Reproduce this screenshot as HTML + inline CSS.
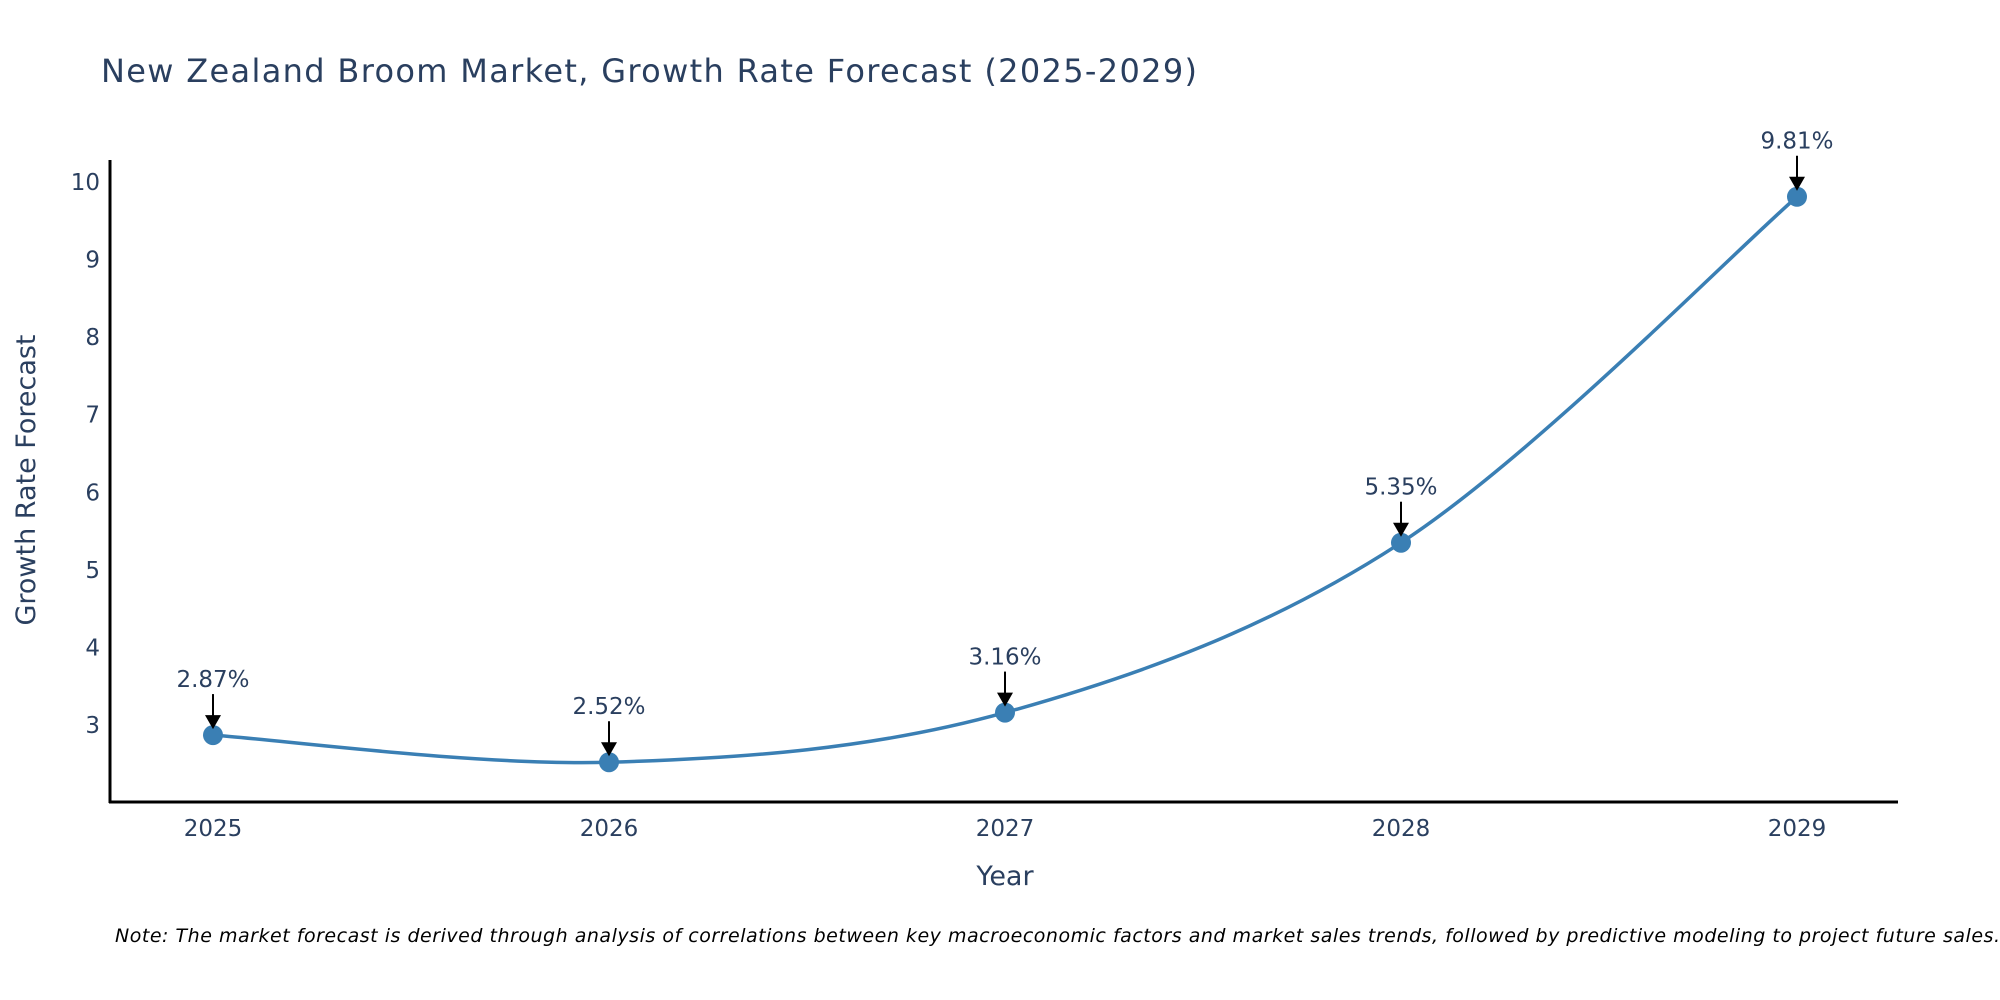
<!DOCTYPE html>
<html><head><meta charset="utf-8"><style>
html,body{margin:0;padding:0;background:#fff;}
svg{display:block;font-family:"DejaVu Sans","Liberation Sans",sans-serif;}
</style></head><body>
<svg id="chart" width="2000" height="1000" viewBox="0 0 2000 1000">
<text x="101" y="82" font-size="32" fill="#2a3f5f" textLength="1096">New Zealand Broom Market, Growth Rate Forecast (2025-2029)</text>
<g id="yticks"></g>
<g id="xticks"></g>
<line x1="110" y1="160" x2="110" y2="803" stroke="#000" stroke-width="3"/>
<line x1="109" y1="802" x2="1898" y2="802" stroke="#000" stroke-width="3"/>
<g id="series"></g>
<g id="annots"></g>
<text x="1005" y="885" font-size="27" fill="#2a3f5f" text-anchor="middle">Year</text>
<text transform="translate(35,480) rotate(-90)" font-size="27" fill="#2a3f5f" text-anchor="middle">Growth Rate Forecast</text>
<text x="115" y="942" font-size="19" font-style="italic" fill="#000" textLength="1885">Note: The market forecast is derived through analysis of correlations between key macroeconomic factors and market sales trends, followed by predictive modeling to project future sales.</text>
</svg>
<script>
const years = ["2025","2026","2027","2028","2029"];
const values = [2.87, 2.52, 3.16, 5.35, 9.81];
const labels = ["2.87%","2.52%","3.16%","5.35%","9.81%"];
const yTicks = [3,4,5,6,7,8,9,10];

const NS = "http://www.w3.org/2000/svg";
function xPos(i){ return 213 + i*396; }
function yPos(v){ return 725 - (v-3)*77.57; }
function mk(tag, attrs, parent){ const e=document.createElementNS(NS,tag); for(const k in attrs) e.setAttribute(k,attrs[k]); parent.appendChild(e); return e; }

const yt=document.getElementById('yticks');
yTicks.forEach(t=>{
  const e=mk('text',{x:100,y:yPos(t)+8,'font-size':23,fill:'#2a3f5f','text-anchor':'end'},yt);
  e.textContent=t;
  
  
});
const xt=document.getElementById('xticks');
years.forEach((y,i)=>{
  const e=mk('text',{x:xPos(i),y:836,'font-size':23,fill:'#2a3f5f','text-anchor':'middle'},xt);
  e.textContent=y;
  
  
});

// smooth curve (Catmull-Rom -> Bezier)
const pts=values.map((v,i)=>[xPos(i),yPos(v)]);
let d=`M${pts[0][0]},${pts[0][1]}`;
const tension=0.5;
for(let i=0;i<pts.length-1;i++){
  const p0=pts[Math.max(0,i-1)],p1=pts[i],p2=pts[i+1],p3=pts[Math.min(pts.length-1,i+2)];
  const c1=[p1[0]+(p2[0]-p0[0])*tension/3,p1[1]+(p2[1]-p0[1])*tension/3];
  const c2=[p2[0]-(p3[0]-p1[0])*tension/3,p2[1]-(p3[1]-p1[1])*tension/3];
  d+=` C${c1[0]},${c1[1]} ${c2[0]},${c2[1]} ${p2[0]},${p2[1]}`;
}
const s=document.getElementById('series');
const line=mk('path',{d:d,fill:'none',stroke:'#3a7fb4','stroke-width':3.5},s);


pts.forEach(p=>{
  const c=mk('circle',{cx:p[0],cy:p[1],r:10,fill:'#3a7fb4'},s);
  
  
});
const a=document.getElementById('annots');
pts.forEach((p,i)=>{
  const t=mk('text',{x:p[0],y:p[1]-48,'font-size':23,fill:'#2a3f5f','text-anchor':'middle'},a);
  t.textContent=labels[i];
  
  
  const l=mk('line',{x1:p[0],y1:p[1]-41,x2:p[0],y2:p[1]-18,stroke:'#000','stroke-width':2},a);
  
  
  const h=mk('polygon',{points:`${p[0]-8},${p[1]-20} ${p[0]+8},${p[1]-20} ${p[0]},${p[1]-6}`,fill:'#000'},a);
  
  
});
</script>
</body></html>
